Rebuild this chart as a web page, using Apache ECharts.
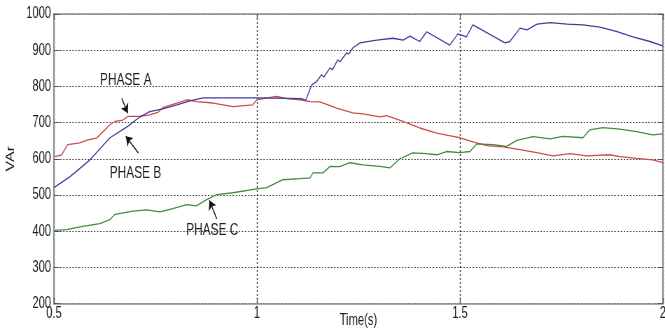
<!DOCTYPE html>
<html>
<head>
<meta charset="utf-8">
<script src="https://cdn.jsdelivr.net/npm/echarts@6/dist/echarts.min.js"></script>
<style>
  html, body { margin: 0; padding: 0; background: #fff; overflow: hidden; }
  /* the plot is laid out on a wider canvas and condensed horizontally */
  #main { width: 950px; height: 333px; transform: scaleX(0.7); transform-origin: 0 0; }
</style>
</head>
<body>
<div id="main"></div>
<script>
// Tick values for both axes
const timeTicks = [0.5, 1, 1.5, 2];
const varTicks = [200, 300, 400, 500, 600, 700, 800, 900, 1000];

// Reactive power per phase, [time (s), VAr]
const phaseA = [
  [0.502, 606], [0.519, 611], [0.534, 639], [0.564, 644], [0.584, 652], [0.605, 657],
  [0.621, 675], [0.638, 694], [0.650, 703], [0.670, 707], [0.682, 717], [0.712, 717],
  [0.736, 721], [0.756, 728], [0.768, 741], [0.803, 754], [0.828, 763], [0.852, 758],
  [0.892, 754], [0.941, 744], [0.990, 749], [1.000, 763], [1.025, 768], [1.049, 772],
  [1.074, 766], [1.106, 763], [1.131, 758], [1.155, 757], [1.187, 744], [1.196, 740],
  [1.236, 727], [1.261, 724], [1.303, 716], [1.319, 719], [1.360, 703], [1.401, 685],
  [1.443, 671], [1.483, 662], [1.500, 658], [1.541, 644], [1.566, 636], [1.606, 633],
  [1.648, 625], [1.689, 617], [1.729, 608], [1.771, 614], [1.812, 608], [1.869, 611],
  [1.894, 606], [1.935, 601], [1.975, 597], [2.000, 589]
];

const phaseB = [
  [0.500, 520], [0.539, 550], [0.589, 597], [0.638, 658], [0.680, 688], [0.712, 716],
  [0.736, 730], [0.768, 738], [0.803, 749], [0.835, 760], [0.867, 768], [1.000, 768],
  [1.110, 766], [1.120, 761], [1.135, 804], [1.147, 813], [1.159, 832], [1.165, 826],
  [1.180, 851], [1.186, 846], [1.199, 873], [1.205, 868], [1.221, 893], [1.226, 889],
  [1.236, 906], [1.254, 920], [1.295, 928], [1.335, 933], [1.360, 928], [1.377, 939],
  [1.401, 924], [1.418, 951], [1.475, 914], [1.495, 945], [1.516, 937], [1.532, 970],
  [1.611, 920], [1.623, 924], [1.648, 961], [1.665, 956], [1.690, 972], [1.722, 976],
  [1.764, 972], [1.803, 970], [1.845, 964], [1.887, 951], [1.926, 937], [1.968, 924],
  [2.000, 912]
];

const phaseC = [
  [0.502, 402], [0.531, 404], [0.571, 413], [0.613, 421], [0.638, 432], [0.650, 446],
  [0.695, 455], [0.728, 459], [0.761, 453], [0.793, 462], [0.827, 473], [0.851, 470],
  [0.876, 487], [0.901, 501], [0.941, 506], [0.999, 517], [1.024, 520], [1.064, 542],
  [1.106, 545], [1.131, 547], [1.138, 561], [1.163, 561], [1.180, 579], [1.204, 578],
  [1.229, 589], [1.261, 583], [1.303, 579], [1.328, 575], [1.352, 600], [1.384, 616],
  [1.418, 614], [1.443, 611], [1.467, 620], [1.500, 617], [1.525, 620], [1.541, 641],
  [1.581, 639], [1.615, 634], [1.640, 651], [1.680, 661], [1.722, 655], [1.754, 662],
  [1.803, 658], [1.820, 680], [1.852, 686], [1.894, 682], [1.935, 675], [1.975, 666],
  [2.000, 669]
];

// Callouts naming each trace: label anchor and arrow, in data coordinates
const calloutA = { name: 'PHASE A', at: [0.677, 818], from: [0.667, 767], to: [0.682, 726] };
const calloutB = { name: 'PHASE B', at: [0.701, 559], from: [0.708, 616], to: [0.677, 662] };
const calloutC = { name: 'PHASE C', at: [0.890, 402], from: [0.901, 434], to: [0.883, 485] };

const FONT = "'Liberation Sans', Arial, Helvetica, sans-serif";
const TEXT = '#1e1e1e';
const BOX = '#8e8e8e';

function callout(c) {
  return {
    markPoint: {
      silent: true,
      animation: false,
      symbol: 'circle',
      symbolSize: 0,
      label: { show: true, position: 'inside', formatter: p => p.name,
               color: TEXT, fontFamily: FONT, fontSize: 17 },
      data: [{ name: c.name, coord: c.at }]
    },
    markLine: {
      silent: true,
      animation: false,
      symbol: ['none', 'arrow'],
      symbolSize: 9,
      label: { show: false },
      lineStyle: { color: '#111', width: 1.3, type: 'solid' },
      data: [[{ coord: c.from }, { coord: c.to }]]
    }
  };
}

function traceSeries(data, color, c) {
  return Object.assign({
    type: 'line',
    data: data,
    xAxisIndex: 0,
    yAxisIndex: 0,
    showSymbol: false,
    symbol: 'none',
    smooth: false,
    lineStyle: { color: color, width: 1.3 },
    itemStyle: { color: color },
    z: 3
  }, callout(c));
}

const plain = v => String(v);

const xMin = timeTicks[0], xMax = timeTicks[timeTicks.length - 1];
const xStep = timeTicks[1] - timeTicks[0];
const yMin = varTicks[0], yMax = varTicks[varTicks.length - 1];
const yStep = varTicks[1] - varTicks[0];

const chart = echarts.init(document.getElementById('main'), null, { renderer: 'canvas' });

chart.setOption({
  animation: false,
  backgroundColor: '#ffffff',
  grid: { left: 77, right: 3, top: 14, bottom: 29.5, containLabel: false, outerBoundsMode: 'none' },
  xAxis: [
    {
      type: 'value', position: 'bottom',
      min: xMin, max: xMax, interval: xStep,
      name: 'Time(s)', nameLocation: 'middle', nameGap: 9, nameMoveOverlap: false,
      nameTextStyle: { color: TEXT, fontFamily: FONT, fontSize: 16, verticalAlign: 'top' },
      axisLine: { show: true, lineStyle: { color: BOX, width: 1.6 } },
      axisTick: { show: true, inside: true, length: 6, lineStyle: { color: '#555', width: 1.4 } },
      axisLabel: { show: true, margin: 2, color: TEXT, fontFamily: FONT, fontSize: 16,
                   showMinLabel: true, showMaxLabel: true, formatter: plain },
      splitLine: { show: true, lineStyle: { color: '#3a3a3a', width: 1.4, type: [2, 2] } }
    },
    {
      type: 'value', position: 'top',
      min: xMin, max: xMax, interval: xStep,
      axisLine: { show: true, lineStyle: { color: BOX, width: 1.6 } },
      axisTick: { show: true, inside: true, length: 6, lineStyle: { color: '#555', width: 1.4 } },
      axisLabel: { show: false },
      splitLine: { show: false }
    }
  ],
  yAxis: [
    {
      type: 'value', position: 'left',
      min: yMin, max: yMax, interval: yStep,
      name: 'VAr', nameLocation: 'middle', nameGap: 53, nameMoveOverlap: false,
      nameTextStyle: { color: TEXT, fontFamily: FONT, fontSize: 16 },
      axisLine: { show: true, lineStyle: { color: BOX, width: 2.2 } },
      axisTick: { show: true, inside: true, length: 8, lineStyle: { color: '#555', width: 1 } },
      axisLabel: { show: true, margin: 4, color: TEXT, fontFamily: FONT, fontSize: 16, formatter: plain },
      splitLine: { show: true, lineStyle: { color: '#3a3a3a', width: 1, type: [2, 2.4] } }
    },
    {
      type: 'value', position: 'right',
      min: yMin, max: yMax, interval: yStep,
      axisLine: { show: true, lineStyle: { color: BOX, width: 2.2 } },
      axisTick: { show: true, inside: true, length: 8, lineStyle: { color: '#555', width: 1 } },
      axisLabel: { show: false },
      splitLine: { show: false }
    }
  ],
  series: [
    traceSeries(phaseA, '#cc4b4b', calloutA),
    traceSeries(phaseB, '#3d3d9e', calloutB),
    traceSeries(phaseC, '#3f8c3f', calloutC)
  ]
});
</script>
</body>
</html>
